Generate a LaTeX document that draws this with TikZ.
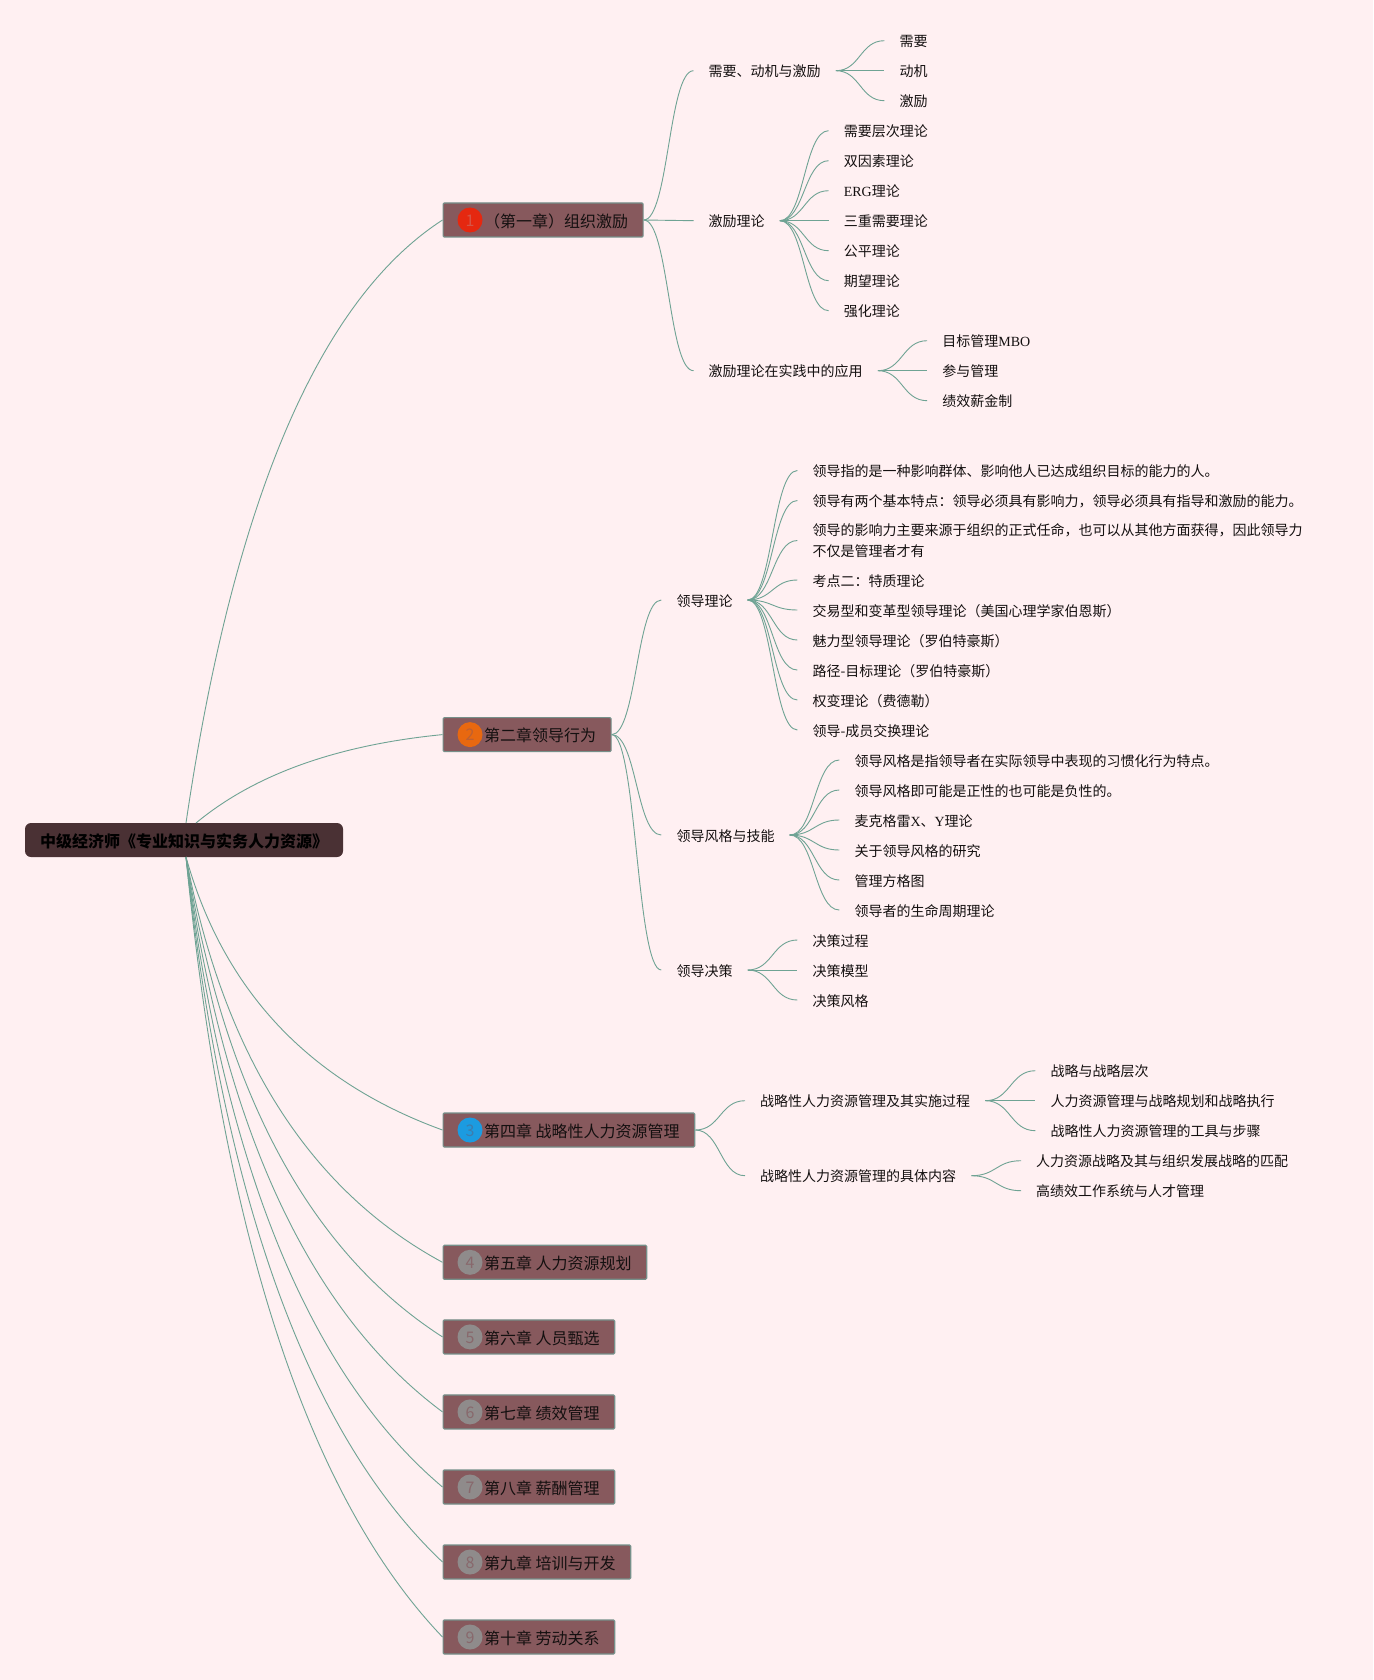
\documentclass[tikz,border=0pt]{standalone}
\usepackage{fontspec}
\setmainfont{Noto Sans CJK SC}
\newfontfamily\latinfont{Liberation Serif}
\usetikzlibrary{calc}
\definecolor{paper}{HTML}{FFF0F2}
\definecolor{linkgreen}{HTML}{6FA394}
\definecolor{boxfill}{HTML}{87595D}
\definecolor{boxedge}{HTML}{76908A}
\definecolor{rootfill}{HTML}{4A3134}
\definecolor{inktext}{HTML}{141010}
\tikzset{
  rootbox/.style={fill=rootfill,rounded corners=6pt,minimum width=318pt,minimum height=34pt,inner sep=0pt,
    font=\fontsize{16}{20}\selectfont\bfseries,text=black,text height=17.2pt,text depth=3pt},
  chapter/.style={anchor=west,draw=boxedge,line width=1.2pt,fill=boxfill,rounded corners=1.2pt,minimum height=34pt,
    inner xsep=15pt,inner ysep=0pt,font=\fontsize{16}{20}\selectfont,text=inktext,text height=17.2pt,text depth=3pt},
  badge/.style={circle,minimum size=25pt,inner sep=0pt,font=\fontsize{16}{20}\selectfont,text height=12.5pt,text depth=0pt},
  topic/.style={anchor=west,inner xsep=15pt,inner ysep=0pt,font=\fontsize{14}{20.4}\selectfont,text=inktext,
    align=left,text height=15.5pt,text depth=3pt},
  link/.style={draw=linkgreen,line width=0.9pt},
  fan/.style={link,to path={(\tikztostart) .. controls ($(\tikztostart)!0.5!(\tikztotarget |- \tikztostart)$)
    and ($(\tikztotarget)!0.5!(\tikztostart |- \tikztotarget)$) .. (\tikztotarget)}}
}
\begin{document}
\begin{tikzpicture}[x=1pt,y=-1pt]
  \fill[paper] (0,0) rectangle (1373,1680);
  \useasboundingbox (0,0) rectangle (1373,1680);

  % root and chapters
  \node[rootbox] (root) at (184,840) {中级经济师《专业知识与实务人力资源》};
  \coordinate (rootup) at (186,823);
  \coordinate (rootupb) at (196,823);
  \coordinate (rootdown) at (186,857);
  \node[chapter] (ch1) at (442.5,220) {\hspace{26pt}（第一章）组织激励};
  \node[chapter] (ch2) at (442.5,734.6) {\hspace{26pt}第二章领导行为};
  \node[chapter] (ch3) at (442.5,1130) {\hspace{26pt}第四章 战略性人力资源管理};
  \node[chapter] (ch4) at (442.5,1262.3) {\hspace{26pt}第五章 人力资源规划};
  \node[chapter] (ch5) at (442.5,1336.9) {\hspace{26pt}第六章 人员甄选};
  \node[chapter] (ch6) at (442.5,1411.9) {\hspace{26pt}第七章 绩效管理};
  \node[chapter] (ch7) at (442.5,1487) {\hspace{26pt}第八章 薪酬管理};
  \node[chapter] (ch8) at (442.5,1562) {\hspace{26pt}第九章 培训与开发};
  \node[chapter] (ch9) at (442.5,1637) {\hspace{26pt}第十章 劳动关系};
  \node[badge,fill={rgb,255:red,229;green,40;blue,16},text={rgb,255:red,214;green,84;blue,70}] (b1) at (470,220) {1};
  \node[badge,fill={rgb,255:red,232;green,104;blue,16},text={rgb,255:red,190;green,96;blue,50}] (b2) at (470,734.6) {2};
  \node[badge,fill={rgb,255:red,28;green,155;blue,224},text={rgb,255:red,62;green,124;blue,172}] (b3) at (470,1130) {3};
  \node[badge,fill={rgb,255:red,143;green,139;blue,139},text={rgb,255:red,136;green,104;blue,108}] (b4) at (470,1262.3) {4};
  \node[badge,fill={rgb,255:red,143;green,139;blue,139},text={rgb,255:red,136;green,104;blue,108}] (b5) at (470,1336.9) {5};
  \node[badge,fill={rgb,255:red,143;green,139;blue,139},text={rgb,255:red,136;green,104;blue,108}] (b6) at (470,1411.9) {6};
  \node[badge,fill={rgb,255:red,143;green,139;blue,139},text={rgb,255:red,136;green,104;blue,108}] (b7) at (470,1487) {7};
  \node[badge,fill={rgb,255:red,143;green,139;blue,139},text={rgb,255:red,136;green,104;blue,108}] (b8) at (470,1562) {8};
  \node[badge,fill={rgb,255:red,143;green,139;blue,139},text={rgb,255:red,136;green,104;blue,108}] (b9) at (470,1637) {9};

  \draw[link] (rootup) .. controls (233.3,501) and (319,300) .. (ch1.west);
  \draw[link] (rootupb) .. controls (254.7,774.3) and (337,745) .. (ch2.west);
  \draw[link] (rootdown) .. controls (223.3,990.5) and (309,1081.5) .. (ch3.west);
  \draw[link] (rootdown) .. controls (223.3,1054.9) and (309,1190) .. (ch4.west);
  \draw[link] (rootdown) .. controls (223.3,1091.2) and (309,1251.2) .. (ch5.west);
  \draw[link] (rootdown) .. controls (223.3,1127.7) and (309,1312.7) .. (ch6.west);
  \draw[link] (rootdown) .. controls (223.3,1164.2) and (309,1374.3) .. (ch7.west);
  \draw[link] (rootdown) .. controls (223.3,1200.7) and (309,1435.8) .. (ch8.west);
  \draw[link] (rootdown) .. controls (223.3,1237.2) and (309,1497.3) .. (ch9.west);

  % chapter 1
  \node[topic] (need) at (693.5,70.7) {需要、动机与激励};
  \node[topic] (theory) at (693.5,220.7) {激励理论};
  \node[topic] (apply) at (693.5,370.7) {激励理论在实践中的应用};
  \node[topic] (needa) at (884.3,40.7) {需要};
  \node[topic] (needb) at (884.3,70.7) {动机};
  \node[topic] (needc) at (884.3,100.7) {激励};
  \node[topic] (theorya) at (828.6,130.7) {需要层次理论};
  \node[topic] (theoryb) at (828.6,160.7) {双因素理论};
  \node[topic] (theoryc) at (828.6,190.7) {{\latinfont ERG}理论};
  \node[topic] (theoryd) at (828.6,220.7) {三重需要理论};
  \node[topic] (theorye) at (828.6,250.7) {公平理论};
  \node[topic] (theoryf) at (828.6,280.7) {期望理论};
  \node[topic] (theoryg) at (828.6,310.7) {强化理论};
  \node[topic] (applya) at (927.2,340.7) {目标管理{\latinfont MBO}};
  \node[topic] (applyb) at (927.2,370.7) {参与管理};
  \node[topic] (applyc) at (927.2,400.7) {绩效薪金制};
  \draw (ch1.east) edge[fan] (need.west) edge[fan] (theory.west) edge[fan] (apply.west);
  \draw (need.east) edge[fan] (needa.west) edge[fan] (needb.west) edge[fan] (needc.west);
  \draw (theory.east) edge[fan] (theorya.west) edge[fan] (theoryb.west) edge[fan] (theoryc.west) edge[fan] (theoryd.west)
    edge[fan] (theorye.west) edge[fan] (theoryf.west) edge[fan] (theoryg.west);
  \draw (apply.east) edge[fan] (applya.west) edge[fan] (applyb.west) edge[fan] (applyc.west);

  % chapter 2
  \node[topic] (lead) at (661.3,600) {领导理论};
  \node[topic] (style) at (661.3,835) {领导风格与技能};
  \node[topic] (decide) at (661.3,970) {领导决策};
  \node[topic] (leada) at (797.4,470.5) {领导指的是一种影响群体、影响他人已达成组织目标的能力的人。};
  \node[topic] (leadb) at (797.4,500.5) {领导有两个基本特点：领导必须具有影响力，领导必须具有指导和激励的能力。};
  \node[topic,text height=34pt] (leadc) at (797.4,540.5) {领导的影响力主要来源于组织的正式任命，也可以从其他方面获得，因此领导力\\不仅是管理者才有};
  \node[topic] (leadd) at (797.4,580) {考点二：特质理论};
  \node[topic] (leade) at (797.4,610) {交易型和变革型领导理论（美国心理学家伯恩斯）};
  \node[topic] (leadf) at (797.4,640) {魅力型领导理论（罗伯特豪斯）};
  \node[topic] (leadg) at (797.4,670) {路径-目标理论（罗伯特豪斯）};
  \node[topic] (leadh) at (797.4,700) {权变理论（费德勒）};
  \node[topic] (leadi) at (797.4,730) {领导-成员交换理论};
  \node[topic] (stylea) at (839.3,760) {领导风格是指领导者在实际领导中表现的习惯化行为特点。};
  \node[topic] (styleb) at (839.3,790) {领导风格即可能是正性的也可能是负性的。};
  \node[topic] (stylec) at (839.3,820) {麦克格雷{\latinfont X}、{\latinfont Y}理论};
  \node[topic] (styled) at (839.3,850) {关于领导风格的研究};
  \node[topic] (stylee) at (839.3,880) {管理方格图};
  \node[topic] (stylef) at (839.3,910) {领导者的生命周期理论};
  \node[topic] (decidea) at (797.4,940) {决策过程};
  \node[topic] (decideb) at (797.4,970) {决策模型};
  \node[topic] (decidec) at (797.4,1000) {决策风格};
  \draw (ch2.east) edge[fan] (lead.west) edge[fan] (style.west) edge[fan] (decide.west);
  \draw (lead.east) edge[fan] (leada.west) edge[fan] (leadb.west) edge[fan] (leadc.west) edge[fan] (leadd.west)
    edge[fan] (leade.west) edge[fan] (leadf.west) edge[fan] (leadg.west) edge[fan] (leadh.west) edge[fan] (leadi.west);
  \draw (style.east) edge[fan] (stylea.west) edge[fan] (styleb.west) edge[fan] (stylec.west)
    edge[fan] (styled.west) edge[fan] (stylee.west) edge[fan] (stylef.west);
  \draw (decide.east) edge[fan] (decidea.west) edge[fan] (decideb.west) edge[fan] (decidec.west);

  % chapter 4
  \node[topic] (hrm) at (745,1100.7) {战略性人力资源管理及其实施过程};
  \node[topic] (hrmc) at (745,1175.7) {战略性人力资源管理的具体内容};
  \node[topic] (hrma) at (1035.4,1070.7) {战略与战略层次};
  \node[topic] (hrmb) at (1035.4,1100.7) {人力资源管理与战略规划和战略执行};
  \node[topic] (hrmd) at (1035.4,1130.7) {战略性人力资源管理的工具与步骤};
  \node[topic] (hrme) at (1021,1160.7) {人力资源战略及其与组织发展战略的匹配};
  \node[topic] (hrmf) at (1021,1190.7) {高绩效工作系统与人才管理};
  \draw (ch3.east) edge[fan] (hrm.west) edge[fan] (hrmc.west);
  \draw (hrm.east) edge[fan] (hrma.west) edge[fan] (hrmb.west) edge[fan] (hrmd.west);
  \draw (hrmc.east) edge[fan] (hrme.west) edge[fan] (hrmf.west);
\end{tikzpicture}
\end{document}
